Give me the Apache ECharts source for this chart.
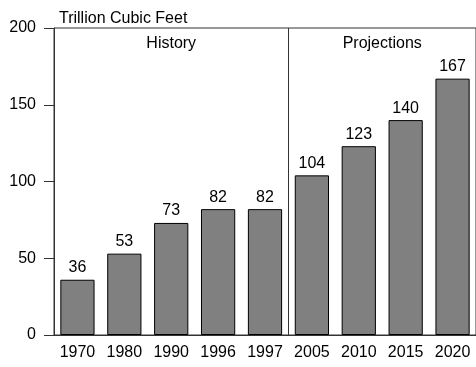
<!DOCTYPE html>
<html>
<head>
<meta charset="utf-8">
<script src="https://cdn.jsdelivr.net/npm/echarts@6/dist/echarts.min.js"></script>
<style>
  html, body { margin: 0; padding: 0; background: #fff; }
  #chart { width: 476px; height: 367px; }
</style>
</head>
<body>
<div id="chart"></div>
<script>
var years = ['1970', '1980', '1990', '1996', '1997', '2005', '2010', '2015', '2020'];
var consumption = [36, 53, 73, 82, 82, 104, 123, 140, 167];
var yTicks = [0, 50, 100, 150, 200];
var historyCount = 5;

var font = 'Liberation Sans, Arial, sans-serif';
var myChart = echarts.init(document.getElementById('chart'));

var option = {
    animation: false,
    title: {
        text: 'Trillion Cubic Feet',
        left: 54,
        top: 6,
        textStyle: { fontFamily: font, fontSize: 16, fontWeight: 'normal', color: '#000' }
    },
    grid: {
        left: 54,
        right: -3,
        top: 28,
        bottom: 32,
        show: true,
        borderColor: '#333',
        borderWidth: 1
    },
    xAxis: {
        type: 'category',
        data: years,
        axisLine: { lineStyle: { color: '#333' } },
        axisTick: { length: 6, alignWithLabel: true, lineStyle: { color: '#333' } },
        axisLabel: { fontFamily: font, fontSize: 16, color: '#000', margin: 10 },
        splitLine: { show: false }
    },
    yAxis: {
        type: 'value',
        min: yTicks[0],
        max: yTicks[yTicks.length - 1],
        interval: 50,
        axisLine: { show: true, lineStyle: { color: '#333' } },
        axisTick: { show: true, length: 10, lineStyle: { color: '#333' } },
        axisLabel: { fontFamily: font, fontSize: 16, color: '#000', margin: 18 },
        splitLine: { show: false }
    },
    series: [{
        type: 'bar',
        data: consumption,
        barWidth: '73%',
        itemStyle: { color: '#808080', borderColor: '#000', borderWidth: 1 },
        label: {
            show: true,
            position: 'top',
            distance: 4,
            fontFamily: font,
            fontSize: 16,
            color: '#000'
        }
    }]
};

myChart.setOption(option);

// section labels and divider, placed from the axis scales
function px(cat) { return myChart.convertToPixel({ xAxisIndex: 0 }, cat); }
var hMid = (px(years[0]) + px(years[historyCount - 1])) / 2;
var pMid = (px(years[historyCount]) + px(years[years.length - 1])) / 2;
var divX = Math.round((px(years[historyCount - 1]) + px(years[historyCount])) / 2) + 0.5;
var yTop = myChart.convertToPixel({ yAxisIndex: 0 }, yTicks[yTicks.length - 1]);
var yBot = myChart.convertToPixel({ yAxisIndex: 0 }, yTicks[0]);

myChart.setOption({
    graphic: [
        { type: 'line', shape: { x1: divX, y1: yTop, x2: divX, y2: yBot }, style: { stroke: '#333', lineWidth: 1 } },
        { type: 'text', x: hMid, y: 44, style: { text: 'History', font: '16px ' + font, fill: '#000', align: 'center', verticalAlign: 'middle' } },
        { type: 'text', x: pMid, y: 44, style: { text: 'Projections', font: '16px ' + font, fill: '#000', align: 'center', verticalAlign: 'middle' } }
    ]
});
</script>
</body>
</html>
